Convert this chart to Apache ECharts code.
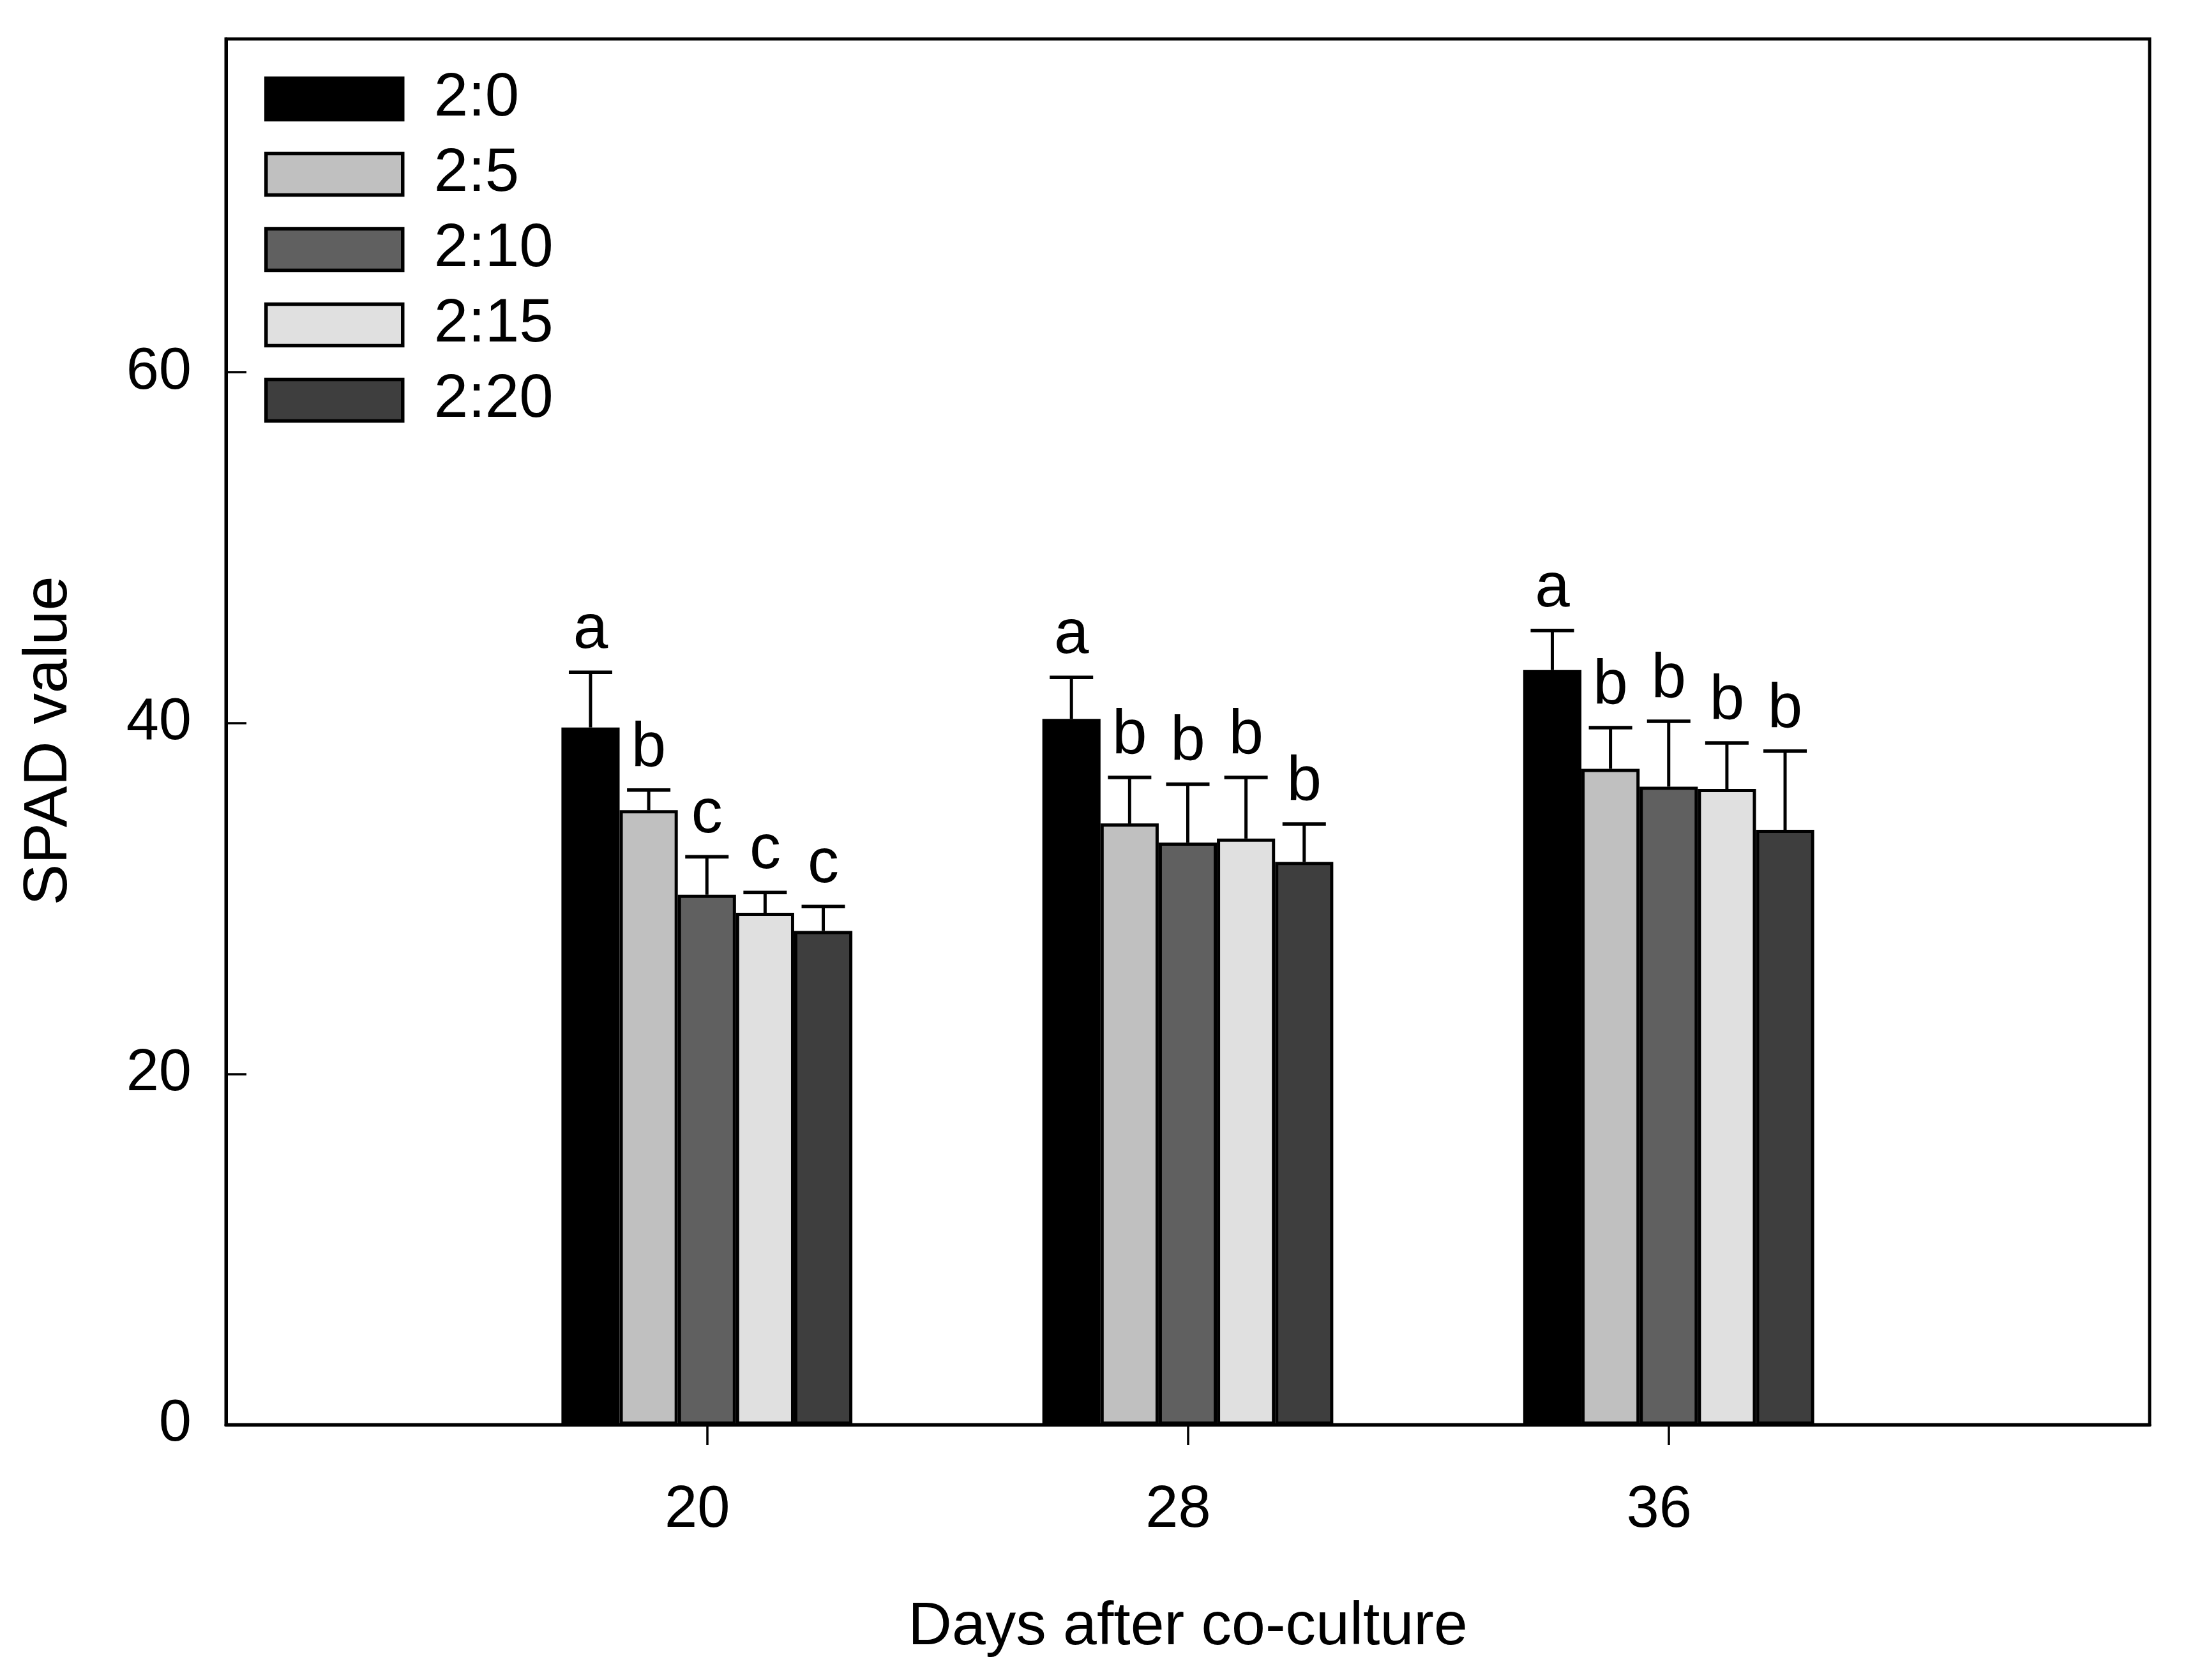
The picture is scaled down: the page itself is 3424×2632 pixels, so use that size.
<!DOCTYPE html>
<html>
<head>
<meta charset="utf-8">
<script src="https://cdn.jsdelivr.net/npm/echarts@6/dist/echarts.min.js"></script>
<style>
  html, body { margin: 0; padding: 0; background: #fff; }
  #chart { width: 3424px; height: 2632px; }
</style>
</head>
<body>
<div id="chart"></div>
<script>
// ---- data ----
const xTickLabels = ['12', '20', '28', '36', '44'];   // axis spans 12..44, labels shown at 20/28/36
const days = ['20', '28', '36'];
const treatments = ['2:0', '2:5', '2:10', '2:15', '2:20'];

const mean2_0  = [39.75, 40.24, 43.02];
const mean2_5  = [35.03, 34.28, 37.39];
const mean2_10 = [30.21, 33.19, 36.37];
const mean2_15 = [29.18, 33.41, 36.24];
const mean2_20 = [28.15, 32.09, 33.91];

const err2_0  = [3.14, 2.36, 2.26];
const err2_5  = [1.15, 2.62, 2.35];
const err2_10 = [2.17, 3.33, 3.73];
const err2_15 = [1.16, 3.49, 2.62];
const err2_20 = [1.39, 2.15, 4.49];

const let2_0  = ['a', 'a', 'a'];
const let2_5  = ['b', 'b', 'b'];
const let2_10 = ['c', 'b', 'b'];
const let2_15 = ['c', 'b', 'b'];
const let2_20 = ['c', 'b', 'b'];

const yTicks = [0, 20, 40, 60];

const colors = ['#000000', '#c0c0c0', '#606060', '#e0e0e0', '#3e3e3e'];

// ---- build ----
const means = [mean2_0, mean2_5, mean2_10, mean2_15, mean2_20];
const errs = [err2_0, err2_5, err2_10, err2_15, err2_20];
const lets = [let2_0, let2_5, let2_10, let2_15, let2_20];

const FONT = '"Liberation Sans", Arial, sans-serif';
const barFrac = 0.121;

function padRow(arr) { return [null].concat(arr, [null]); }

const series = [];
treatments.forEach((name, i) => {
  series.push({
    type: 'bar',
    name: name,
    data: padRow(means[i]),
    barWidth: (barFrac * 100) + '%',
    barGap: '0%',
    itemStyle: { color: colors[i], borderColor: '#000', borderWidth: 5 },
    emphasis: { disabled: true },
    z: 2
  });
});
treatments.forEach((name, i) => {
  series.push({
    type: 'custom',
    name: 'err ' + name,
    z: 5,
    silent: true,
    data: means[i].map((m, k) => [k + 1, m, m + errs[i][k]]),
    encode: { x: 0, y: [1, 2] },
    renderItem: function (params, api) {
      const band = api.size([1, 0])[0];
      const off = (i - 2) * barFrac * band;
      const p0 = api.coord([api.value(0), api.value(1)]);
      const p1 = api.coord([api.value(0), api.value(2)]);
      const x = p0[0] + off;
      const half = 34;
      return {
        type: 'group',
        children: [
          { type: 'line', shape: { x1: x, y1: p0[1], x2: x, y2: p1[1] },
            style: { stroke: '#000', lineWidth: 5 } },
          { type: 'line', shape: { x1: x - half, y1: p1[1], x2: x + half, y2: p1[1] },
            style: { stroke: '#000', lineWidth: 5.5 } },
          { type: 'text', x: x, y: p1[1] - 16,
            style: { text: lets[i][params.dataIndex], fill: '#000',
                     font: '98px ' + FONT, textAlign: 'center', textVerticalAlign: 'bottom' } }
        ]
      };
    }
  });
});

const chart = echarts.init(document.getElementById('chart'), null, { renderer: 'canvas' });
chart.setOption({
  animation: false,
  backgroundColor: '#fff',
  textStyle: { fontFamily: FONT },
  grid: {
    left: 354, right: 57, top: 61, bottom: 400,
    show: true, borderColor: '#000', borderWidth: 5, backgroundColor: 'transparent',
    containLabel: false, outerBoundsMode: 'none'
  },
  legend: {
    data: treatments,
    orient: 'vertical',
    left: 414, top: 107,
    padding: 0,
    itemWidth: 214, itemHeight: 65, itemGap: 22,
    icon: 'rect',
    selectedMode: false,
    itemStyle: { borderColor: '#000', borderWidth: 5.5 },
    textStyle: { fontFamily: FONT, fontSize: 96, color: '#000', padding: [0, 0, 0, 44] }
  },
  xAxis: {
    type: 'category',
    data: xTickLabels,
    boundaryGap: false,
    name: 'Days after co-culture',
    nameLocation: 'middle',
    nameGap: 270,
    nameTextStyle: { fontFamily: FONT, fontSize: 95, color: '#000' },
    axisLine: { show: true, lineStyle: { color: '#000', width: 5 } },
    axisTick: {
      show: true, inside: false, length: 32,
      interval: function (idx) { return idx > 0 && idx < xTickLabels.length - 1; },
      lineStyle: { color: '#000', width: 3.5 }
    },
    axisLabel: {
      show: true, margin: 89,
      interval: function (idx) { return idx > 0 && idx < xTickLabels.length - 1; },
      fontFamily: FONT, fontSize: 92, color: '#000',
      padding: [0, 30, 0, 0]
    },
    splitLine: { show: false }
  },
  yAxis: {
    type: 'value',
    min: 0, max: 79, interval: 20,
    name: 'SPAD value',
    nameLocation: 'middle',
    nameGap: 228,
    nameTextStyle: { fontFamily: FONT, fontSize: 97, color: '#000', padding: [0, 28, 0, 0] },
    axisLine: { show: true, lineStyle: { color: '#000', width: 5 } },
    axisTick: {
      show: true, inside: true, length: 32,
      customValues: yTicks,
      lineStyle: { color: '#000', width: 3.5 }
    },
    axisLabel: {
      show: true, margin: 54, customValues: yTicks,
      fontFamily: FONT, fontSize: 92, color: '#000'
    },
    splitLine: { show: false }
  },
  series: series
});
</script>
</body>
</html>
